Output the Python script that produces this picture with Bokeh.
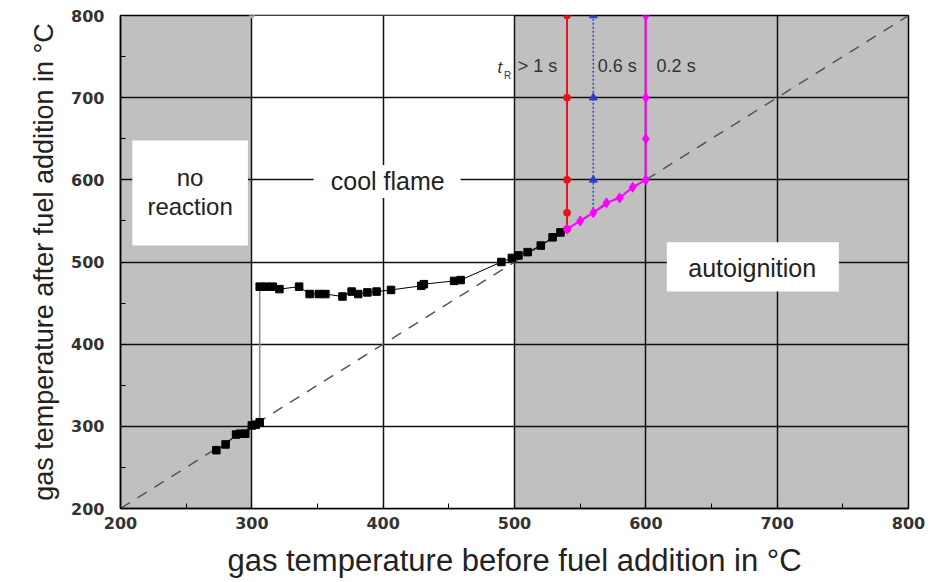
from bokeh.plotting import figure
from bokeh.models import SingleIntervalTicker, Range1d
from bokeh.core.properties import value
from bokeh.embed import file_html
from bokeh.resources import INLINE

# ---- data ----
lower_x = [273, 280, 288, 291, 295, 300, 303, 306]
lower_y = [271, 278, 290, 291, 291, 301, 302, 305]
upper_x = [306, 311, 316, 321, 336, 344, 351, 356, 369, 376, 381, 388, 395, 406,
           429, 431, 454, 459, 490, 498, 503, 510, 520, 529, 535]
upper_y = [470, 470, 470, 467, 470, 461, 461, 461, 458, 464, 461, 463, 464, 466,
           471, 473, 477, 478, 500, 505, 508, 512, 520, 530, 536]
jump_x = [306, 306]
jump_y = [305, 470]

red_x = [540, 540, 540, 540, 540]
red_y = [540, 560, 600, 700, 800]
blue_x = [560, 560, 560, 560]
blue_y = [560, 600, 700, 800]
mag_x = [540, 550, 560, 570, 580, 590, 600, 600, 600, 600]
mag_y = [540, 550, 560, 572, 578, 591, 600, 650, 700, 800]
diag_x = [200, 800]
diag_y = [200, 800]
corner_x = [200, 300]
corner_y = [800, 800]

zone_left = [300]
zone_right = [500]

box_left = [209, 347, 616]
box_right = [297, 459, 747]
box_bottom = [520, 578, 464]
box_top = [648, 618, 524]

FONT = "Liberation Sans"

p = figure(width=930, height=582, output_backend="svg", toolbar_location=None,
           x_range=Range1d(200, 800), y_range=Range1d(200, 800),
           min_border_left=120, min_border_right=22, min_border_top=15,
           min_border_bottom=74)
p.background_fill_color = "#c0c0c0"
p.border_fill_color = "white"
p.outline_line_color = "black"
p.outline_line_width = 1.5

# white zone (below grid)
p.quad(left=zone_left, right=zone_right, bottom=[200], top=[800],
       fill_color="white", line_color=None, level="image")

for ax in (p.xaxis[0], p.yaxis[0]):
    ax.ticker = SingleIntervalTicker(interval=100, num_minor_ticks=2)
    ax.major_tick_in = 5
    ax.major_tick_out = 0
    ax.minor_tick_in = 5
    ax.minor_tick_out = 0
    ax.axis_line_color = "black"
    ax.axis_line_width = 1.5
    ax.major_tick_line_color = "black"
    ax.minor_tick_line_color = "black"
    ax.major_label_text_font = "DejaVu Sans"
    ax.major_label_text_font_style = "bold"
    ax.major_label_text_font_size = "16px"
    ax.major_label_text_color = "#333333"
    ax.axis_label_text_font = FONT
    ax.axis_label_text_font_style = "normal"
    ax.axis_label_text_color = "#222222"

p.xaxis.axis_label = "gas temperature before fuel addition in °C"
p.yaxis.axis_label = "gas temperature after fuel addition in °C"
p.xaxis.axis_label_text_font_size = "31px"
p.yaxis.axis_label_text_font_size = "27px"
p.xaxis.major_label_standoff = 8
p.yaxis.major_label_standoff = 16
p.xaxis.axis_label_standoff = 11
p.yaxis.axis_label_standoff = 9

for g in (p.xgrid[0], p.ygrid[0]):
    g.ticker = SingleIntervalTicker(interval=100)
    g.grid_line_color = "#111111"
    g.grid_line_width = 1.5

# label boxes
p.quad(left=box_left, right=box_right, bottom=box_bottom, top=box_top,
       fill_color="white", line_color=None)

# diagonal
p.line(diag_x, diag_y, line_color="#555555", line_width=1.5, line_dash="11 9")

# corner markers
p.scatter(corner_x, corner_y, size=5, color="#b0b0b0")

# black data
p.line(jump_x, jump_y, line_color="#8a8a8a", line_width=1.5)
p.line(lower_x, lower_y, line_color="black", line_width=1)
p.line(upper_x, upper_y, line_color="black", line_width=1)
p.scatter(lower_x, lower_y, marker="square", size=7.5, color="black")
p.scatter(upper_x, upper_y, marker="square", size=7.5, color="black")

# residence time lines
p.line(red_x, red_y, line_color="#e8141c", line_width=2)
p.scatter(red_x, red_y, marker="circle", size=7, color="#e8141c")
p.line(blue_x, blue_y, line_color="#2a3cd6", line_width=1.5, line_dash="2 2")
p.scatter(blue_x[1:], blue_y[1:], marker="triangle", size=8, color="#2a3cd6")
p.line(mag_x, mag_y, line_color="#ff00ff", line_width=2)
p.scatter(mag_x, mag_y, marker="diamond", size=10, color="#ff00ff")

# texts
p.text(x=[253, 253], y=[603, 567], text=["no", "reaction"],
       text_font=value(FONT), text_font_size="24px", text_color="#222222",
       text_align="center", text_baseline="middle")
p.text(x=[403.5], y=[598], text=["cool flame"],
       text_font=value(FONT), text_font_size="25px", text_color="#222222",
       text_align="center", text_baseline="middle")
p.text(x=[681], y=[493], text=["autoignition"],
       text_font=value(FONT), text_font_size="25px", text_color="#222222",
       text_align="center", text_baseline="middle")

p.text(x=[487], y=[737], text=["t"], text_font=value(FONT),
       text_font_style="italic", text_font_size="17px", text_color="#333333",
       text_align="left", text_baseline="middle")
p.text(x=[492], y=[727], text=["R"], text_font=value(FONT),
       text_font_size="10px", text_color="#333333",
       text_align="left", text_baseline="middle")
p.text(x=[502.4, 563.3, 608.2], y=[738, 738, 738], text=["> 1 s", "0.6 s", "0.2 s"],
       text_font=value(FONT), text_font_size="18px", text_color="#333333",
       text_align="left", text_baseline="middle")

open("out.html", "w").write(file_html(p, INLINE))
